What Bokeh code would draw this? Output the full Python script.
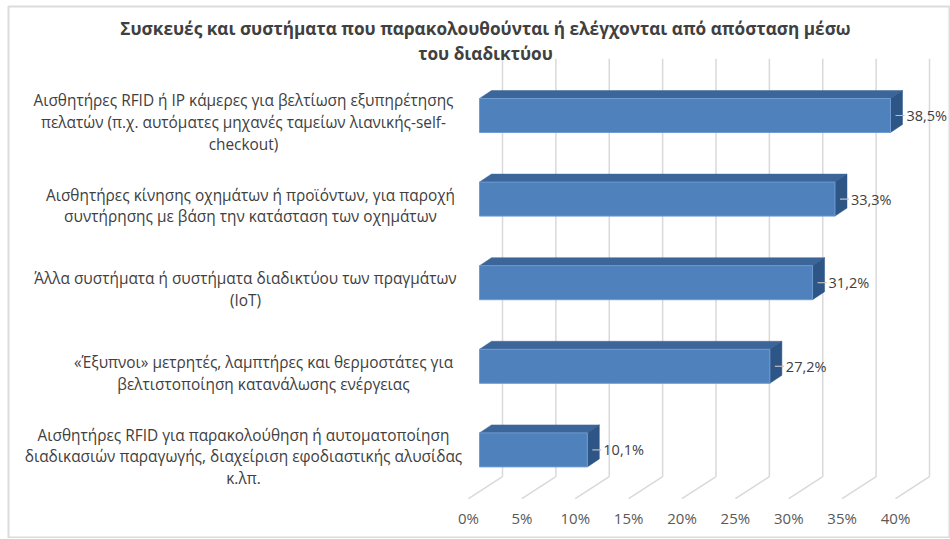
from bokeh.plotting import figure
from bokeh.models import Range1d
from bokeh.embed import file_html
from bokeh.resources import INLINE
from bokeh.core.properties import value

# ---------------- data ----------------
title_text = ("Συσκευές και συστήματα που παρακολουθούνται ή ελέγχονται από απόσταση μέσω\n"
              "του διαδικτύου")
categories = [
    "Αισθητήρες RFID ή IP κάμερες για βελτίωση εξυπηρέτησης\nπελατών (π.χ. αυτόματες μηχανές ταμείων λιανικής-self-\ncheckout)",
    "Αισθητήρες κίνησης οχημάτων ή προϊόντων, για παροχή\nσυντήρησης με βάση την κατάσταση των οχημάτων",
    "Άλλα συστήματα ή συστήματα διαδικτύου των πραγμάτων\n(IoT)",
    "«Έξυπνοι» μετρητές, λαμπτήρες και θερμοστάτες για\nβελτιστοποίηση κατανάλωσης ενέργειας",
    "Αισθητήρες RFID για παρακολούθηση ή αυτοματοποίηση\nδιαδικασιών παραγωγής, διαχείριση εφοδιαστικής αλυσίδας\nκ.λπ.",
]
values = [38.5, 33.3, 31.2, 27.2, 10.1]
value_labels = ["38,5%", "33,3%", "31,2%", "27,2%", "10,1%"]
ticks = [0, 5, 10, 15, 20, 25, 30, 35, 40]
tick_labels = ["0%", "5%", "10%", "15%", "20%", "25%", "30%", "35%", "40%"]

# ---------------- layout (pixels) ----------------
W, H = 950, 538
ML, MT = 8, 6                # frame offset inside the canvas
FW, FH = W - ML, H - MT      # frame size
PX_PER_PCT = 10.675          # horizontal pixels per percent
PX_PER_BAND = 83.6           # vertical pixels per category band
X0 = 460.0                   # frame x of 0% on the front plane
FLOOR = 492.2                # frame y (from top) of the front floor edge
BAR_OFF = (11, 7)            # bar front face offset from the front plane (right, up)
BAR_DEPTH = (12, 8)          # bar depth (right, up)
WALL_DEPTH = (34, 22)        # back wall offset (right, up)
BAR_HALF = 17                # half bar height in px
label_centers_px = [235, 242, 237, 255, 235]   # frame x centre of each label block


def hx(px):
    return px / PX_PER_PCT


def hy(px):
    return px / PX_PER_BAND


p = figure(width=W, height=H, output_backend="svg", toolbar_location=None,
           x_range=Range1d(-X0 / PX_PER_PCT, (FW - X0) / PX_PER_PCT),
           y_range=Range1d(-(FH - FLOOR) / PX_PER_BAND, FLOOR / PX_PER_BAND),
           min_border=0, min_border_left=ML, min_border_top=MT,
           x_axis_location=None, y_axis_location=None)
p.grid.visible = False
p.outline_line_color = "#DCDCDC"
p.outline_line_width = 2
p.background_fill_color = "white"
p.border_fill_color = "white"

n = len(categories)
centers = [n - i - 0.5 for i in range(n)]   # front-plane centre of each band

# ---------------- gridlines (back wall + floor diagonals) ----------------
gx0, gy0, gx1, gy1 = [], [], [], []
for t in ticks:
    gx0.append(t + hx(WALL_DEPTH[0])); gy0.append(hy(WALL_DEPTH[1]))
    gx1.append(t + hx(WALL_DEPTH[0])); gy1.append(n + hy(WALL_DEPTH[1]))
    gx0.append(t); gy0.append(0)
    gx1.append(t + hx(WALL_DEPTH[0])); gy1.append(hy(WALL_DEPTH[1]))
p.segment(gx0, gy0, gx1, gy1, line_color="#D9D9D9", line_width=1.5)

# ---------------- bars ----------------
fl, fr, fb, ft = [], [], [], []
top_xs, top_ys, side_xs, side_ys = [], [], [], []
for v, c in zip(values, centers):
    l = hx(BAR_OFF[0])
    r = v + hx(BAR_OFF[0])
    yc = c + hy(BAR_OFF[1])
    b = yc - hy(BAR_HALF)
    tt = yc + hy(BAR_HALF)
    dx, dy = hx(BAR_DEPTH[0]), hy(BAR_DEPTH[1])
    fl.append(l); fr.append(r); fb.append(b); ft.append(tt)
    top_xs.append([l, r, r + dx, l + dx]); top_ys.append([tt, tt, tt + dy, tt + dy])
    side_xs.append([r, r + dx, r + dx, r]); side_ys.append([b, b + dy, tt + dy, tt])

p.patches(top_xs, top_ys, fill_color="#3C669A", line_color="#3C669A", line_width=0.5)
p.patches(side_xs, side_ys, fill_color="#2D5586", line_color="#2D5586", line_width=0.5)
p.quad(left=fl, right=fr, bottom=fb, top=ft, fill_color="#4F81BD",
       line_color="#6E9BD0", line_width=1)

# ---------------- value labels with leader lines ----------------
lx0 = [v + hx(16) for v in values]
lx1 = [v + hx(25) for v in values]
ly = [c + hy(BAR_OFF[1]) for c in centers]
p.segment(lx0, ly, lx1, ly, line_color="#BFBFBF", line_width=1.2)
p.text(x=[v + hx(27) for v in values], y=ly, text=value_labels,
       text_font=value("Open Sans"), text_font_size="14.5px", text_color="#404040",
       text_align="left", text_baseline="middle")

# ---------------- category labels ----------------
p.text(x=[hx(cx - X0) for cx in label_centers_px], y=centers, text=categories,
       text_font=value("Open Sans"), text_font_size="15.4px", text_color="#404040",
       text_align="center", text_baseline="middle", text_line_height=1.03)

# ---------------- x tick labels ----------------
p.text(x=ticks, y=[-hy(19)] * len(ticks), text=tick_labels,
       text_font=value("Open Sans"), text_font_size="15px", text_color="#595959",
       text_align="center", text_baseline="middle")

# ---------------- title ----------------
p.text(x=[hx(477 - X0)], y=[hy(FLOOR - 34.5)], text=[title_text],
       text_font=value("Open Sans"), text_font_size="17.2px", text_font_style="bold",
       text_color="#404040", text_align="center", text_baseline="middle",
       text_line_height=1.08)

open("out.html", "w").write(file_html(p, INLINE))
